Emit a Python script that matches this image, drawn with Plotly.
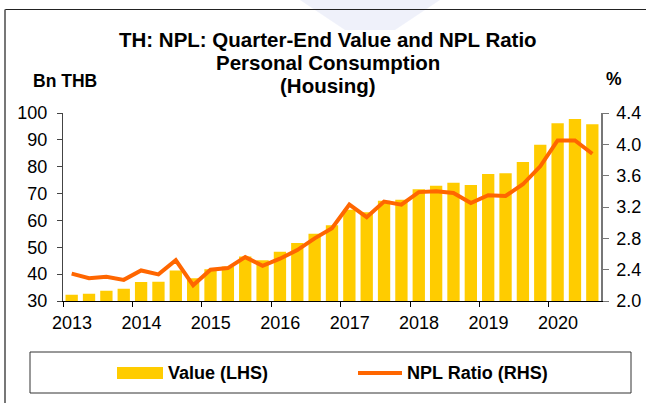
import plotly.graph_objects as go

# ---------------- data ----------------
quarters = ["2013Q1", "2013Q2", "2013Q3", "2013Q4",
            "2014Q1", "2014Q2", "2014Q3", "2014Q4",
            "2015Q1", "2015Q2", "2015Q3", "2015Q4",
            "2016Q1", "2016Q2", "2016Q3", "2016Q4",
            "2017Q1", "2017Q2", "2017Q3", "2017Q4",
            "2018Q1", "2018Q2", "2018Q3", "2018Q4",
            "2019Q1", "2019Q2", "2019Q3", "2019Q4",
            "2020Q1", "2020Q2", "2020Q3"]

npl_value_bn_thb = [32.3, 32.7, 33.8, 34.6,
                    37.1, 37.2, 41.4, 38.5,
                    41.8, 42.8, 46.6, 45.2,
                    48.3, 51.6, 55.0, 58.2,
                    64.0, 63.0, 67.3, 67.7,
                    71.6, 72.9, 74.0, 73.2,
                    77.3, 77.6, 81.8, 88.2,
                    96.2, 97.8, 95.8]

npl_ratio_pct = [2.35, 2.29, 2.31, 2.27,
                 2.39, 2.34, 2.52, 2.20,
                 2.40, 2.42, 2.56, 2.45,
                 2.54, 2.65, 2.80, 2.93,
                 3.23, 3.07, 3.27, 3.23,
                 3.39, 3.40, 3.38, 3.25,
                 3.35, 3.34, 3.49, 3.72,
                 4.05, 4.05, 3.88]

years = ["2013", "2014", "2015", "2016", "2017", "2018", "2019", "2020"]
left_ticks = [30, 40, 50, 60, 70, 80, 90, 100]
right_ticks = [2.0, 2.4, 2.8, 3.2, 3.6, 4.0, 4.4]

# ---------------- layout helpers ----------------
W, H = 646, 403
L, R, T, B = 63, 601, 113, 301
FONT = "Liberation Sans, Arial, sans-serif"
BAR_COLOR = "#FFCC00"
LINE_COLOR = "#FF6600"
TICK_SIZE = 18


def px(x):
    return (x - L) / (R - L)


def py(y):
    return (B - y) / (B - T)


x_idx = list(range(len(quarters)))
year_tick_pos = [quarters.index(y + "Q1") - 0.5 for y in years]

fig = go.Figure()
fig.add_trace(go.Bar(
    x=x_idx, y=npl_value_bn_thb, name="Value (LHS)",
    marker=dict(color=BAR_COLOR, line=dict(width=0)),
    width=0.71, hovertext=quarters, showlegend=False, yaxis="y"))
fig.add_trace(go.Scatter(
    x=x_idx, y=npl_ratio_pct, name="NPL Ratio (RHS)", mode="lines",
    line=dict(color=LINE_COLOR, width=4), hovertext=quarters,
    showlegend=False, yaxis="y2"))

shapes = [
    # faint watermark
    dict(type="path", xref="paper", yref="paper",
         path="M %f %f L %f %f L %f %f L %f %f Z" % (
             px(300), py(0), px(440), py(0), px(395), py(30), px(345), py(30)),
         fillcolor="rgba(220,225,245,0.45)", line=dict(width=0), layer="below"),
    # outer frame
    dict(type="line", xref="paper", yref="paper", x0=px(5), x1=px(646),
         y0=py(9.5), y1=py(9.5), line=dict(color="#222222", width=1.2)),
    dict(type="line", xref="paper", yref="paper", x0=px(5), x1=px(5),
         y0=py(9.5), y1=py(403), line=dict(color="#777777", width=2)),
    # legend box
    dict(type="rect", xref="paper", yref="paper", x0=px(30), x1=px(631),
         y0=py(352), y1=py(393), line=dict(color="#333333", width=1),
         fillcolor="white"),
    dict(type="rect", xref="paper", yref="paper", x0=px(117), x1=px(163),
         y0=py(367), y1=py(379), line=dict(width=0), fillcolor=BAR_COLOR),
    dict(type="line", xref="paper", yref="paper", x0=px(358), x1=px(402),
         y0=py(373), y1=py(373), line=dict(color=LINE_COLOR, width=4)),
]

ann_common = dict(xref="paper", yref="paper", showarrow=False)
title_font = dict(size=20.5, color="black", family=FONT)
label_font = dict(size=18, color="black", family=FONT)
annotations = [
    dict(text="<b>TH: NPL: Quarter-End Value and NPL Ratio</b>", x=px(328), y=py(39),
         xanchor="center", yanchor="middle", font=title_font, **ann_common),
    dict(text="<b>Personal Consumption</b>", x=px(328), y=py(62.5),
         xanchor="center", yanchor="middle", font=title_font, **ann_common),
    dict(text="<b>(Housing)</b>", x=px(328), y=py(85.5),
         xanchor="center", yanchor="middle", font=title_font, **ann_common),
    dict(text="<b>Bn THB</b>", x=px(64.5), y=py(81),
         xanchor="center", yanchor="middle", font=dict(size=17.5, color="black", family=FONT), **ann_common),
    dict(text="<b>%</b>", x=px(614), y=py(79),
         xanchor="center", yanchor="middle", font=dict(size=17.5, color="black", family=FONT), **ann_common),
    dict(text="<b>Value (LHS)</b>", x=px(166), y=py(373),
         xanchor="left", yanchor="middle", font=label_font, **ann_common),
    dict(text="<b>NPL Ratio (RHS)</b>", x=px(405), y=py(373),
         xanchor="left", yanchor="middle", font=label_font, **ann_common),
]

fig.update_layout(
    template="none",
    width=W, height=H,
    margin=dict(l=L, r=W - R, t=T, b=H - B, pad=0),
    paper_bgcolor="white", plot_bgcolor="white",
    font=dict(family=FONT, size=TICK_SIZE, color="black"),
    showlegend=False,
    bargap=0.29,
    xaxis=dict(
        range=[-0.5, len(quarters) - 0.5], tickmode="array",
        tickvals=year_tick_pos, ticktext=years, ticklabelshift=9,
        ticks="outside", ticklen=5, tickcolor="black", tickwidth=1,
        showline=True, linecolor="black", linewidth=1,
        showgrid=False, zeroline=False, automargin=False,
        tickfont=dict(size=TICK_SIZE, color="black", family=FONT)),
    yaxis=dict(
        range=[30, 100], tickmode="array", tickvals=left_ticks,
        ticks="outside", ticklen=5, tickcolor="#444444", tickwidth=1,
        showline=True, linecolor="#444444", linewidth=1,
        showgrid=False, zeroline=False, automargin=False,
        ticklabelstandoff=6,
        tickfont=dict(size=TICK_SIZE, color="black", family=FONT)),
    yaxis2=dict(
        range=[2.0, 4.4], tickmode="array", tickvals=right_ticks,
        tickformat=".1f", overlaying="y", side="right",
        ticks="outside", ticklen=6, tickcolor="#777777", tickwidth=1,
        showline=True, linecolor="#777777", linewidth=1.5,
        showgrid=False, zeroline=False, automargin=False,
        ticklabelstandoff=4,
        tickfont=dict(size=TICK_SIZE, color="black", family=FONT)),
    shapes=shapes,
    annotations=annotations,
)

fig.write_html(
    "out.html",
    config={"displayModeBar": False},
    post_script="document.body.style.margin='0';document.body.style.padding='0';",
)
